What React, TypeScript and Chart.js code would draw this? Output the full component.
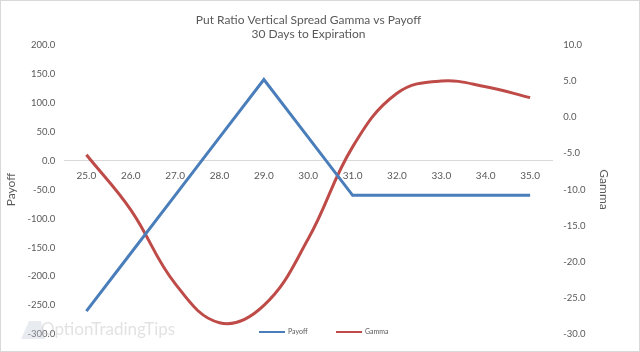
import React, { useEffect, useRef } from "react";
import { Chart, registerables } from "chart.js";

Chart.register(...registerables);

const strikes = ["25.0", "26.0", "27.0", "28.0", "29.0", "30.0", "31.0", "32.0", "33.0", "34.0", "35.0"];
const payoff = [-260, -160, -60, 40, 140, 40, -60, -60, -60, -60, -60];
const gamma = [-5.2, -12.8, -23.0, -28.4, -26.0, -16.8, -4.1, 3.3, 5.0, 4.2, 2.7];
const titleLines = ["Put Ratio Vertical Spread Gamma vs Payoff", "30 Days to Expiration"];
const seriesNames = ["Payoff", "Gamma"];

const BLUE = "#4A7EBB";
const RED = "#BE4B48";
const TXT = "#595959";
const FONT = "Lato, 'Open Sans', sans-serif";

const extras = {
  id: "extras",
  afterDatasetsDraw(chart: any) {
    const ctx = chart.ctx;
    ctx.save();
    // watermark
    ctx.fillStyle = "rgba(190,200,215,0.35)";
    ctx.beginPath();
    ctx.moveTo(20, 338);
    ctx.lineTo(28, 320);
    ctx.lineTo(40, 320);
    ctx.lineTo(44, 338);
    ctx.closePath();
    ctx.fill();
    ctx.font = `17px ${FONT}`;
    ctx.fillStyle = "rgba(190,190,190,0.45)";
    ctx.textBaseline = "middle";
    ctx.textAlign = "left";
    ctx.fillText("OptionTradingTips", 40, 329);
    // legend
    const items = [
      { x: 258, color: chart.data.datasets[0].borderColor, label: chart.data.datasets[0].label },
      { x: 335, color: chart.data.datasets[1].borderColor, label: chart.data.datasets[1].label },
    ];
    ctx.font = `7px ${FONT}`;
    items.forEach((it) => {
      ctx.strokeStyle = it.color;
      ctx.lineWidth = 2;
      ctx.beginPath();
      ctx.moveTo(it.x, 331);
      ctx.lineTo(it.x + 26, 331);
      ctx.stroke();
      ctx.fillStyle = TXT;
      ctx.fillText(it.label, it.x + 29, 331);
    });
    ctx.restore();
  },
};

export default function App() {
  const ref = useRef<HTMLCanvasElement>(null);
  useEffect(() => {
    document.body.style.margin = "0";
    const chart = new Chart(ref.current!, {
      type: "line",
      data: {
        labels: strikes,
        datasets: [
          {
            label: seriesNames[0],
            data: payoff,
            borderColor: BLUE,
            backgroundColor: BLUE,
            borderWidth: 3,
            pointRadius: 0,
            tension: 0,
            yAxisID: "y",
          },
          {
            label: seriesNames[1],
            data: gamma,
            borderColor: RED,
            backgroundColor: RED,
            borderWidth: 3,
            pointRadius: 0,
            tension: 0.4,
            yAxisID: "y1",
          },
        ],
      },
      options: {
        animation: false,
        responsive: false,
        layout: { padding: { left: 0, right: 23, top: 5, bottom: -3 } },
        plugins: {
          legend: { display: false },
          tooltip: { enabled: false },
          title: {
            display: true,
            text: titleLines,
            color: TXT,
            font: { family: FONT, size: 12, weight: "normal" },
            padding: { top: 7, bottom: 3 },
            lineHeight: 1.4,
          },
        },
        scales: {
          x: {
            type: "category",
            position: { y: 0 } as any,
            offset: true,
            grid: { display: false, drawTicks: false },
            border: { color: "#D9D9D9", width: 1 },
            ticks: { color: TXT, font: { family: FONT, size: 10 }, maxRotation: 0, padding: 9 },
          },
          y: {
            position: "left",
            min: -300,
            max: 200,
            grid: { display: false, drawTicks: false },
            border: { display: false },
            ticks: {
              stepSize: 50,
              color: TXT,
              font: { family: FONT, size: 9.5 },
              padding: 9,
              callback: (v: any) => Number(v).toFixed(1),
            },
            title: { display: true, text: "Payoff", color: TXT, font: { family: FONT, size: 12 }, padding: { top: 3, bottom: 0 } },
          },
          y1: {
            position: "right",
            min: -30,
            max: 10,
            grid: { display: false, drawTicks: false },
            border: { display: false },
            ticks: {
              stepSize: 5,
              color: TXT,
              font: { family: FONT, size: 9.5 },
              padding: 11,
              callback: (v: any) => Number(v).toFixed(1),
            },
            title: { display: true, text: "Gamma", color: TXT, font: { family: FONT, size: 12 }, padding: { top: 5, bottom: 0 } },
          },
        },
      },
      plugins: [extras],
    });
    return () => chart.destroy();
  }, []);
  return (
    <div
      style={{
        position: "absolute",
        left: 0,
        top: 0,
        width: 640,
        height: 352,
        boxSizing: "border-box",
        border: "1px solid #D9D9D9",
        background: "#fff",
      }}
    >
      <canvas ref={ref} width={638} height={350} style={{ display: "block" }} />
    </div>
  );
}
